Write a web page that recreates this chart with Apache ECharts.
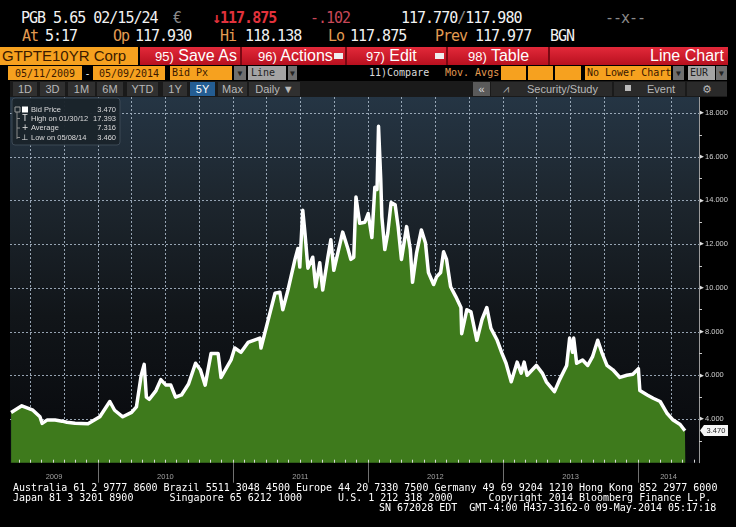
<!DOCTYPE html>
<html><head><meta charset="utf-8">
<script src="https://cdn.jsdelivr.net/npm/echarts@6.0.0/dist/echarts.min.js"></script>
<style>
html,body{margin:0;padding:0;background:#000;}
body{width:736px;height:527px;overflow:hidden;position:relative;}
.a{position:absolute;white-space:pre;}
.m{font-family:"DejaVu Sans Mono",monospace;}
.t1{font-size:15px;letter-spacing:-1px;line-height:16px;}
.s{font-family:"Liberation Sans",Arial,sans-serif;}
.org{color:#e39b52;}
.w{color:#f2f2f2;}
.ob{background:#f6a11f;color:#3a1800;}
.bx{display:flex;align-items:center;justify-content:center;}
.r4{top:66px;height:14px;font-family:"DejaVu Sans Mono",monospace;font-size:10px;}
.arr{background:#6f6f6f;color:#222;font-size:8px;}
.r5{top:82px;height:14px;background:#303030;color:#b8b8b8;font-family:"Liberation Sans",Arial,sans-serif;font-size:11px;}
.rb{top:47px;height:18px;color:#fff;font-family:"Liberation Sans",Arial,sans-serif;font-size:16px;line-height:18px;}
.sep{top:47px;height:18px;width:2px;background:#7a0812;}
#plotbg{position:absolute;left:10px;top:97px;width:689px;height:366px;background:linear-gradient(#253544 0%,#1d262e 28%,#111519 60%,#07080c 100%);}
#chart{position:absolute;left:0;top:97px;width:736px;height:390px;}
.ft{font-family:"DejaVu Sans Mono",monospace;font-size:10px;line-height:10px;height:10px;color:#fff;}
</style></head><body>
<!-- row 1 -->
<div class="a m t1 w" style="left:21px;top:10px">PGB 5.65 02/15/24</div>
<div class="a m t1" style="left:173px;top:10px;color:#8a8a8a">€</div>
<div class="a m t1" style="left:212px;top:10px;color:#e2323c;font-weight:bold">↓117.875</div>
<div class="a m t1" style="left:310px;top:10px;color:#c84858">-.102</div>
<div class="a m t1 w" style="left:401px;top:10px">117.770<span style="color:#8a8a8a">/</span>117.980</div>
<div class="a m t1" style="left:605px;top:10px;color:#8a8a8a">--x--</div>
<!-- row 2 -->
<div class="a m t1 org" style="left:22px;top:28px">At</div>
<div class="a m t1 w" style="left:45px;top:28px">5:17</div>
<div class="a m t1 org" style="left:113px;top:28px">Op</div>
<div class="a m t1 w" style="left:135px;top:28px">117.930</div>
<div class="a m t1 org" style="left:220px;top:28px">Hi</div>
<div class="a m t1 w" style="left:245px;top:28px">118.138</div>
<div class="a m t1 org" style="left:328px;top:28px">Lo</div>
<div class="a m t1 w" style="left:350px;top:28px">117.875</div>
<div class="a m t1 org" style="left:435px;top:28px">Prev</div>
<div class="a m t1 w" style="left:475px;top:28px">117.977</div>
<div class="a m t1 w" style="left:550px;top:28px">BGN</div>
<!-- row 3 -->
<div class="a s ob" style="left:0;top:47px;width:138px;height:18px;font-size:15px;line-height:18px;padding-left:2px;box-sizing:border-box;color:#3a1a00">GTPTE10YR Corp</div>
<div class="a" style="left:140px;top:47px;width:588px;height:18px;background:linear-gradient(#e3293a,#b8101f)"></div>
<div class="a sep" style="left:240px"></div>
<div class="a sep" style="left:345px"></div>
<div class="a sep" style="left:446px"></div>
<div class="a sep" style="left:548px"></div>
<div class="a rb" style="left:155px"><span style="font-size:13px">95)</span> Save As</div>
<div class="a rb" style="left:258px"><span style="font-size:13px">96)</span> Actions</div>
<div class="a" style="left:334px;top:53px;width:9px;height:6px;background:#eee"></div>
<div class="a rb" style="left:366px"><span style="font-size:13px">97)</span> Edit</div>
<div class="a" style="left:435px;top:53px;width:9px;height:6px;background:#eee"></div>
<div class="a rb" style="left:468px"><span style="font-size:13px">98)</span> Table</div>
<div class="a rb" style="left:650px">Line Chart</div>
<!-- row 4 -->
<div class="a r4 ob bx" style="left:8px;width:74px">05/11/2009</div>
<div class="a r4 bx" style="left:83px;width:9px;color:#eee">-</div>
<div class="a r4 ob bx" style="left:93px;width:72px">05/09/2014</div>
<div class="a r4 ob" style="left:170px;width:62px;line-height:14px;padding-left:2px;box-sizing:border-box">Bid Px</div>
<div class="a r4 arr bx" style="left:234px;width:12px">▼</div>
<div class="a r4" style="left:248px;width:38px;background:#a4a4a4;color:#222;line-height:14px;padding-left:3px;box-sizing:border-box">Line</div>
<div class="a r4 arr bx" style="left:288px;width:9px">▼</div>
<div class="a r4" style="left:369px;color:#dcdcdc;line-height:14px">11)Compare</div>
<div class="a r4 org" style="left:445px;line-height:14px">Mov. Avgs</div>
<div class="a r4 ob" style="left:501px;width:25px"></div>
<div class="a r4 ob" style="left:528px;width:25px"></div>
<div class="a r4 ob" style="left:555px;width:26px"></div>
<div class="a r4 ob" style="left:585px;width:86px;line-height:14px;padding-left:2px;box-sizing:border-box">No Lower Chart</div>
<div class="a r4 arr bx" style="left:673px;width:11px">▼</div>
<div class="a r4" style="left:688px;width:27px;background:#a4a4a4;color:#222;line-height:14px;padding-left:2px;box-sizing:border-box">EUR</div>
<div class="a r4 arr bx" style="left:716px;width:11px">▼</div>
<!-- row 5 -->
<div class="a" style="left:10px;top:81px;width:717px;height:16px;background:#1a1a1a"></div>
<div class="a r5 bx" style="left:13px;width:24px">1D</div>
<div class="a r5 bx" style="left:40px;width:25px">3D</div>
<div class="a r5 bx" style="left:68px;width:27px">1M</div>
<div class="a r5 bx" style="left:97px;width:26px">6M</div>
<div class="a r5 bx" style="left:127px;width:31px">YTD</div>
<div class="a r5 bx" style="left:163px;width:24px">1Y</div>
<div class="a r5 bx" style="left:190px;width:25px;background:#245d93;color:#fff">5Y</div>
<div class="a r5 bx" style="left:218px;width:29px">Max</div>
<div class="a r5 bx" style="left:249px;width:51px">Daily ▼</div>
<div class="a r5 bx" style="left:473px;width:17px;background:#5a5a5a;color:#ddd">«</div>
<div class="a r5" style="left:491px;width:121px;background:#2a2a2a;line-height:14px;padding-left:36px;box-sizing:border-box">Security/Study</div>
<div class="a s" style="left:503px;top:83px;font-size:11px;color:#aaa;line-height:12px">⩘</div>
<div class="a r5" style="left:614px;width:71px;background:#2a2a2a;line-height:14px;padding-left:33px;box-sizing:border-box">Event</div>
<div class="a" style="left:625px;top:85px;width:6px;height:6px;background:#bbb"></div>
<div class="a r5 bx" style="left:687px;width:40px;background:#2a2a2a;font-family:'DejaVu Sans'">⚙</div>

<div id="plotbg"></div>
<div id="chart"></div>

<!-- footer -->
<div class="a ft" style="left:13px;top:483px">Australia 61 2 9777 8600 Brazil 5511 3048 4500 Europe 44 20 7330 7500 Germany 49 69 9204 1210 Hong Kong 852 2977 6000</div>
<div class="a ft" style="left:13px;top:493px">Japan 81 3 3201 8900      Singapore 65 6212 1000      U.S. 1 212 318 2000      Copyright 2014 Bloomberg Finance L.P.</div>
<div class="a ft" style="left:379px;top:503px">SN 672028 EDT  GMT-4:00 H437-3162-0 09-May-2014 05:17:18</div>

<script>
// ---- data ----
const dates = [
'2009-05-11','2009-06-09','2009-07-09','2009-07-28','2009-08-03','2009-08-16','2009-09-07','2009-09-26','2009-10-09','2009-10-31','2009-12-05',
'2010-01-06','2010-02-02','2010-02-15','2010-03-09','2010-04-02','2010-04-15','2010-04-28','2010-05-06','2010-05-12','2010-05-20','2010-06-07','2010-06-20','2010-07-04','2010-07-17','2010-07-30','2010-08-15','2010-09-03','2010-09-22','2010-10-05','2010-10-18','2010-11-03','2010-11-22','2010-11-30','2010-12-27',
'2011-01-06','2011-01-23','2011-02-11','2011-03-15','2011-03-18','2011-04-06','2011-04-25','2011-05-08','2011-05-16','2011-05-30','2011-06-18','2011-06-26','2011-07-01','2011-07-09','2011-07-15','2011-07-23','2011-08-05','2011-08-13','2011-08-24','2011-09-01','2011-09-15','2011-09-23','2011-10-01','2011-10-12','2011-10-25','2011-11-08','2011-11-16','2011-11-24','2011-11-30','2011-12-10','2011-12-24',
'2012-01-02','2012-01-12','2012-01-20','2012-01-26','2012-01-30','2012-02-05','2012-02-08','2012-02-16','2012-02-24','2012-03-04','2012-03-15','2012-03-23','2012-04-01','2012-04-15','2012-04-25','2012-05-01','2012-05-12','2012-05-25','2012-06-05','2012-06-13','2012-06-27','2012-07-05','2012-07-16','2012-07-24','2012-08-01','2012-08-12','2012-08-26','2012-09-09','2012-09-11','2012-09-25','2012-10-06','2012-10-22','2012-11-05','2012-11-18','2012-11-29','2012-12-16','2012-12-29',
'2013-01-09','2013-01-23','2013-02-08','2013-02-19','2013-02-27','2013-03-07','2013-04-01','2013-04-17','2013-04-28','2013-05-20','2013-06-03','2013-06-22','2013-06-30','2013-07-08','2013-07-11','2013-07-19','2013-08-04','2013-08-18','2013-08-31','2013-09-14','2013-09-25','2013-10-09','2013-10-25','2013-11-13','2013-12-02','2013-12-18',
'2014-01-02','2014-01-06','2014-01-26','2014-02-11','2014-03-02','2014-03-21','2014-04-06','2014-04-25','2014-05-08','2014-05-09'
];
const bidPx = [
4.3,4.6,4.4,4.1,3.8,3.95,3.95,3.9,3.85,3.8,3.78,
4.1,4.8,4.4,4.1,4.3,4.55,6.0,6.5,5.0,4.9,5.3,5.8,5.55,5.55,5.0,5.1,5.6,6.55,6.25,5.55,7.0,7.0,5.9,6.7,
7.25,7.05,7.5,7.7,7.25,8.5,9.75,9.8,9.0,9.9,11.3,11.8,10.95,13.55,12.5,10.9,11.4,10.05,11.15,9.9,11.4,12.2,10.8,11.6,12.55,11.8,11.3,11.4,14.15,12.95,13.0,
13.4,12.3,14.6,14.5,17.39,14.95,13.25,11.75,12.5,13.9,13.8,12.8,11.3,12.8,11.75,10.25,11.6,12.65,12.05,10.7,10.15,10.5,10.7,11.65,11.3,10.05,9.6,9.1,7.9,9.0,8.9,7.6,8.55,9.1,8.15,7.6,7.0,
6.55,5.7,6.6,6.1,6.6,6.0,6.45,6.1,5.7,5.25,5.8,6.45,7.7,7.05,7.7,6.55,6.7,6.45,6.85,7.6,7.05,6.45,6.25,5.9,6.0,6.05,
6.3,5.3,5.1,4.95,4.8,4.25,3.95,3.75,3.46,3.47
];
const yTicks = [4,6,8,10,12,14,16,18];
const yMinorTicks = [3,5,7,9,11,13,15,17];
const yearLabels = [2009,2010,2011,2012,2013,2014];
const legendRows = [['Bid Price','3.470'],['High on 01/30/12','17.393'],['Average','7.316'],['Low on 05/08/14','3.460']];
const lastValue = 3.470;
const axisStart = '2009-05-08', axisEnd = '2014-06-15';
const yMin = 2, yMax = 18.73, yStep = 2;

// ---- helpers ----
const toTs = s => { const p = s.split('-').map(Number); return new Date(p[0], p[1]-1, p[2]).getTime(); };
const xMin = toTs(axisStart), xMax = toTs(axisEnd);
const yearTicks = [], yearMids = [], quarterTicks = [], monthTicks = [];
yearLabels.forEach(y => {
  const a = Math.max(new Date(y,0,1).getTime(), xMin), b = Math.min(new Date(y+1,0,1).getTime(), xMax);
  yearMids.push((a+b)/2);
  const s = new Date(y,0,1).getTime(); if (s > xMin && s < xMax) yearTicks.push(s);
  for (let m = 0; m < 12; m++) {
    const t = new Date(y,m,1).getTime();
    if (t > xMin && t < xMax) { monthTicks.push(t); if (m % 3 === 0) quarterTicks.push(t); }
  }
});
const seriesData = dates.map((d,i) => [toTs(d), bidPx[i]]);

const chart = echarts.init(document.getElementById('chart'), null, {renderer:'canvas'});
const gridColor = 'rgba(165,180,195,0.9)';
const smallFont = '"Liberation Sans", Arial, sans-serif';
const option = {
  animation:false,
  backgroundColor:'transparent',
  grid:{left:10,right:37,top:0,bottom:24.3,show:false},
  xAxis:[
    {type:'value',min:xMin,max:xMax,position:'bottom',axisLine:{show:false},
     axisTick:{show:false},axisLabel:{show:false},splitLine:{show:false}},
    {type:'value',min:xMin,max:xMax,position:'bottom',axisLine:{show:false},
     axisTick:{show:true,customValues:yearTicks,length:20,lineStyle:{color:'#707070',width:1}},
     axisLabel:{show:true,customValues:yearMids,formatter:v=>String(new Date(v).getFullYear()),
       color:'#a0a0a0',fontSize:7.5,fontFamily:smallFont,margin:10},
     splitLine:{show:false}},
    {type:'value',min:xMin,max:xMax,position:'bottom',z:10,axisLine:{show:false},
     axisTick:{show:true,inside:true,customValues:monthTicks,length:3,lineStyle:{color:'#d8d8d8',width:1}},
     axisLabel:{show:false,customValues:monthTicks},splitLine:{show:false}}
  ],
  yAxis:[
    {type:'value',min:yMin,max:yMax,interval:yStep,position:'right',
     axisLine:{show:true,lineStyle:{color:'#9a9a9a',width:1}},
     axisTick:{show:false},
     axisLabel:{customValues:yTicks,margin:1,formatter:v=>'{t|▶}'+v.toFixed(3),
       color:'#d0d0d0',fontSize:7.5,fontFamily:smallFont,
       rich:{t:{fontSize:5,color:'#e0e0e0',padding:[0,1,0,0]}}},
     splitLine:{show:false}},
    {type:'value',min:yMin,max:yMax,position:'right',axisLine:{show:false},
     axisTick:{show:true,customValues:yMinorTicks,length:3,lineStyle:{color:'#c8c8c8'}},
     axisLabel:{show:false,customValues:yMinorTicks},splitLine:{show:false}}
  ],
  series:[{
    name:'Bid Price',type:'line',xAxisIndex:0,yAxisIndex:0,data:seriesData,
    symbol:'none',z:3,
    lineStyle:{color:'#ffffff',width:3.5,join:'round'},
    areaStyle:{color:'#3e7a1c',opacity:1}
  }]
};
chart.setOption(option);

// dotted grid lines placed through the axes' scales, legend box, last-value tag
const g = [];
const plotTop = chart.convertToPixel({yAxisIndex:0}, yMax), plotBot = chart.convertToPixel({yAxisIndex:0}, yMin);
const plotL = chart.convertToPixel({xAxisIndex:0}, xMin), plotR = chart.convertToPixel({xAxisIndex:0}, xMax);
const dot = (x1,y1,x2,y2) => ({type:'line',silent:true,z:1,shape:{x1:x1,y1:y1,x2:x2,y2:y2},
  style:{stroke:gridColor,lineWidth:1,lineDash:[2,2]}});
quarterTicks.forEach(t => { const x = Math.round(chart.convertToPixel({xAxisIndex:0}, t)) + 0.5; g.push(dot(x,plotTop,x,plotBot)); });
yTicks.forEach(v => { const y = Math.round(chart.convertToPixel({yAxisIndex:0}, v)) + 0.5; g.push(dot(plotL,y,plotR,y)); });

g.push({type:'rect',shape:{x:12,y:1,width:108,height:47,r:3},
  style:{fill:'rgba(26,35,43,0.96)',stroke:'#3d4955',lineWidth:1},z:20});
const rowY = [12.5,21.5,31,40.5];
g.push({type:'line',shape:{x1:17,y1:15,x2:17,y2:42},style:{stroke:'#8a8a8a',lineWidth:1},z:21});
g.push({type:'rect',shape:{x:15,y:10,width:5,height:5},style:{fill:'none',stroke:'#9a9a9a',lineWidth:1},z:21});
g.push({type:'rect',shape:{x:22,y:9.5,width:6,height:6},style:{fill:'#ffffff'},z:21});
const icons = ['','T','+','⊥'];
legendRows.forEach((r,i) => {
  if (i>0) {
    g.push({type:'line',shape:{x1:17,y1:rowY[i],x2:20,y2:rowY[i]},style:{stroke:'#8a8a8a',lineWidth:1},z:21});
    g.push({type:'text',x:25,y:rowY[i],style:{text:icons[i],fill:'#e8e8e8',fontSize:8,fontFamily:'DejaVu Sans',align:'center',verticalAlign:'middle'},z:21});
  }
  g.push({type:'text',x:31,y:rowY[i],style:{text:r[0],fill:'#dcdcdc',fontSize:7.5,fontFamily:smallFont,verticalAlign:'middle'},z:21});
  g.push({type:'text',x:116,y:rowY[i],style:{text:r[1],fill:'#dcdcdc',fontSize:7.5,fontFamily:smallFont,align:'right',verticalAlign:'middle'},z:21});
});
const yPix = chart.convertToPixel({yAxisIndex:0}, lastValue);
g.push({type:'polygon',shape:{points:[[700,yPix],[704,yPix-5.5],[728,yPix-5.5],[728,yPix+5.5],[704,yPix+5.5]]},
  style:{fill:'#f4f4f4'},z:20});
g.push({type:'text',x:716,y:yPix,style:{text:lastValue.toFixed(3),fill:'#222',fontSize:7.5,fontFamily:smallFont,align:'center',verticalAlign:'middle'},z:21});
chart.setOption({graphic:g});
</script>
</body></html>
